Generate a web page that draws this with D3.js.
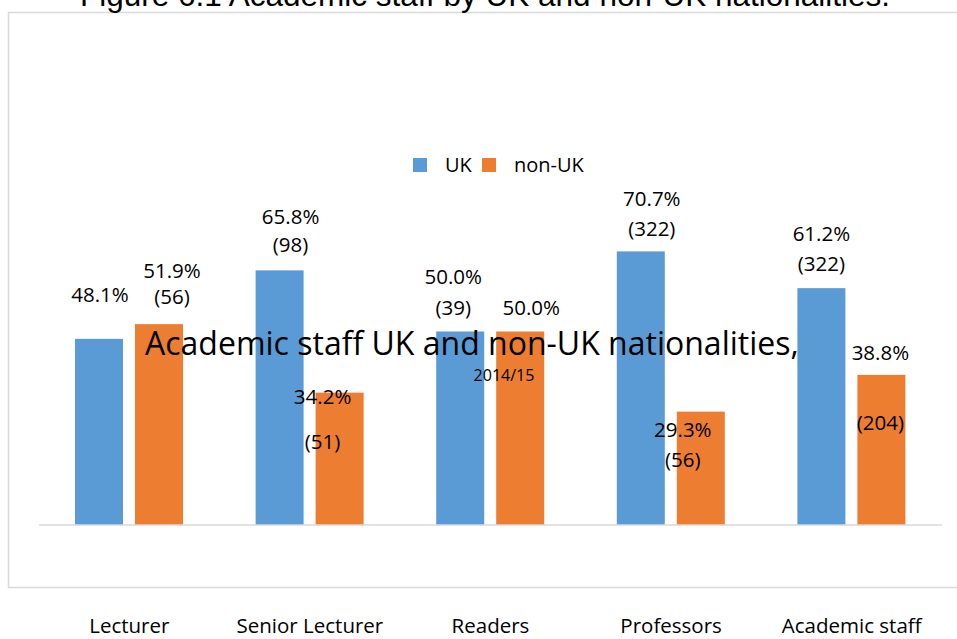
<!DOCTYPE html>
<html lang="en">
<head>
  <meta charset="UTF-8" />
  <title>Academic staff by UK and non-UK nationalities</title>
  <script src="https://d3js.org/d3.v7.min.js"></script>
  <style>
    body { margin: 0; background: #fff; }
    svg { display: block; }
    .lbl { font-family: "Open Sans", sans-serif; fill: #000; }
  </style>
</head>
<body>
  <div id="chart"></div>
  <script>
    // dados
    const categories = ["Lecturer", "Senior Lecturer", "Readers", "Professors", "Academic staff"];
    const series = ["UK", "non-UK"];
    const ukPct = [48.1, 65.8, 50.0, 70.7, 61.2];
    const nonUkPct = [51.9, 34.2, 50.0, 29.3, 38.8];
    const ukCount = [null, 98, 39, 322, 322];
    const nonUkCount = [56, 51, null, 56, 204];

    // deslocamento dos rótulos (px) em relação ao topo/centro de cada barra: [dx, dyPct, dyCount]
    const ukNudge = [[1, -44, 0], [11, -54, -26], [-7, -55, -24], [11, -53, -23], [0, -54, -24]];
    const nonUkNudge = [[13, -53, -27], [-17, 4, 49], [11, -24, 0], [-18, 18, 48], [-1, -22, 48]];

    const colors = { "UK": "#5B9BD5", "non-UK": "#ED7D31" };

    const width = 957, height = 639;
    const baseY = 525;

    const svg = d3.select("#chart").append("svg")
      .attr("width", width)
      .attr("height", height);

    // moldura
    svg.append("rect")
      .attr("x", 8.5).attr("y", 12.5)
      .attr("width", 960).attr("height", 575)
      .attr("fill", "none")
      .attr("stroke", "#d9d9d9")
      .attr("stroke-width", 1.5);

    // título (cortado no topo, como no original)
    svg.append("text")
      .attr("x", 485).attr("y", 6)
      .attr("text-anchor", "middle")
      .style("font-family", "'Liberation Sans', Arial, sans-serif")
      .style("font-size", "31.5px")
      .attr("fill", "#000")
      .text("Figure 6.1 Academic staff by UK and non-UK nationalities.");

    const x0 = d3.scaleBand().domain(categories).range([39, 942]).padding(0);
    const x1 = d3.scaleBand().domain(series).range([36, 144]).paddingInner(0.2).paddingOuter(0);
    const y = d3.scaleLinear().domain([0, 80]).range([baseY, baseY - 80 * 3.87]);

    const rows = categories.map((c, i) => ({
      cat: c,
      vals: [
        { s: "UK", v: ukPct[i], n: ukCount[i], nudge: ukNudge[i] },
        { s: "non-UK", v: nonUkPct[i], n: nonUkCount[i], nudge: nonUkNudge[i] }
      ]
    }));

    const groups = svg.selectAll("g.grp")
      .data(rows)
      .join("g")
      .attr("class", "grp")
      .attr("transform", d => `translate(${x0(d.cat)},0)`);

    groups.selectAll("rect")
      .data(d => d.vals)
      .join("rect")
      .attr("x", d => x1(d.s))
      .attr("y", d => y(d.v))
      .attr("width", x1.bandwidth())
      .attr("height", d => baseY - y(d.v))
      .attr("fill", d => colors[d.s]);

    // eixo horizontal
    svg.append("line")
      .attr("x1", 39).attr("x2", 942)
      .attr("y1", baseY).attr("y2", baseY)
      .attr("stroke", "#d9d9d9")
      .attr("stroke-width", 1.5);

    // rótulos das categorias
    svg.selectAll("text.cat")
      .data(categories)
      .join("text")
      .attr("class", "lbl cat")
      .attr("x", d => x0(d) + x0.bandwidth() / 2)
      .attr("y", 633)
      .attr("text-anchor", "middle")
      .style("font-size", "20.5px")
      .text(d => d);

    // rótulos de dados
    groups.each(function (d) {
      const g = d3.select(this);
      d.vals.forEach(b => {
        const cx = x1(b.s) + x1.bandwidth() / 2 + b.nudge[0];
        const top = y(b.v);
        g.append("text")
          .attr("class", "lbl")
          .attr("x", cx)
          .attr("y", top + b.nudge[1])
          .attr("dy", "0.35em")
          .attr("text-anchor", "middle")
          .style("font-size", "20.5px")
          .text(b.v.toFixed(1) + "%");
        if (b.n !== null) {
          g.append("text")
            .attr("class", "lbl")
            .attr("x", cx)
            .attr("y", top + b.nudge[2])
            .attr("dy", "0.35em")
            .attr("text-anchor", "middle")
            .style("font-size", "20.5px")
            .text("(" + b.n + ")");
        }
      });
    });

    // legenda
    const legend = svg.append("g").attr("transform", "translate(413,158)");
    const legX = [0, 69];
    series.forEach((s, i) => {
      legend.append("rect")
        .attr("x", legX[i]).attr("y", 0)
        .attr("width", 14).attr("height", 14)
        .attr("fill", colors[s]);
      legend.append("text")
        .attr("class", "lbl")
        .attr("x", legX[i] + 32)
        .attr("y", 7)
        .attr("dy", "0.35em")
        .style("font-size", "20px")
        .text(s);
    });

    // texto sobreposto
    svg.append("text")
      .attr("class", "lbl")
      .attr("x", 145).attr("y", 355)
      .style("font-size", "32px")
      .text("Academic staff UK and non-UK nationalities,");

    svg.append("text")
      .attr("class", "lbl")
      .attr("x", 504).attr("y", 375)
      .attr("dy", "0.35em")
      .attr("text-anchor", "middle")
      .style("font-size", "16px")
      .text("2014/15");
  </script>
</body>
</html>
